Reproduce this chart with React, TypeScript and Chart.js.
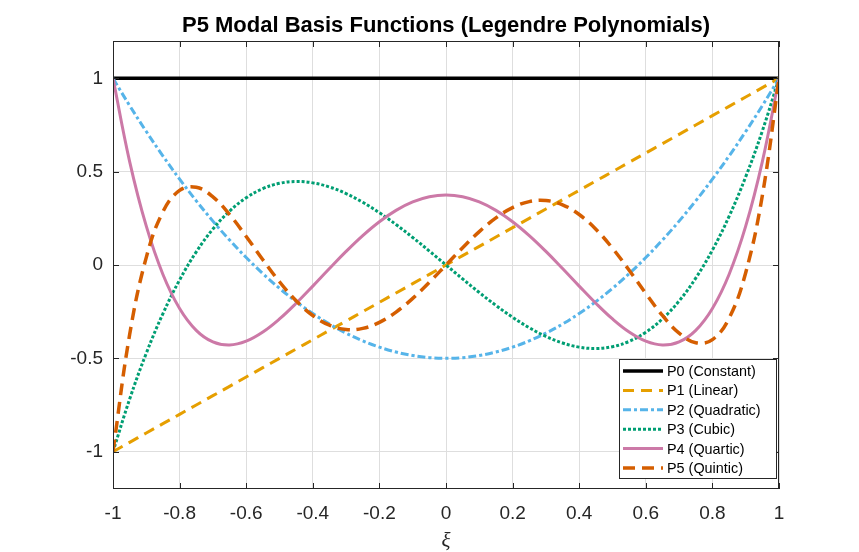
import React, { useEffect, useRef } from "react";
import { Chart, registerables } from "chart.js";
Chart.register(...registerables);

const TITLE = "P5 Modal Basis Functions (Legendre Polynomials)";
const X_LABEL = "ξ";
const X_TICKS = [-1, -0.8, -0.6, -0.4, -0.2, 0, 0.2, 0.4, 0.6, 0.8, 1];
const Y_TICKS = [-1, -0.5, 0, 0.5, 1];

const xi = [
  -1, -0.95, -0.9, -0.85, -0.8, -0.75, -0.7, -0.65, -0.6, -0.55, -0.5, -0.45, -0.4, -0.35, -0.3, -0.25, -0.2, -0.15, -0.1, -0.05,
  0, 0.05, 0.1, 0.15, 0.2, 0.25, 0.3, 0.35, 0.4, 0.45, 0.5, 0.55, 0.6, 0.65, 0.7, 0.75, 0.8, 0.85, 0.9, 0.95, 1,
];

const p0 = [
  1, 1, 1, 1, 1, 1, 1, 1, 1, 1, 1, 1, 1, 1, 1, 1, 1, 1, 1, 1,
  1, 1, 1, 1, 1, 1, 1, 1, 1, 1, 1, 1, 1, 1, 1, 1, 1, 1, 1, 1, 1,
];
const p1 = [
  -1, -0.95, -0.9, -0.85, -0.8, -0.75, -0.7, -0.65, -0.6, -0.55, -0.5, -0.45, -0.4, -0.35, -0.3, -0.25, -0.2, -0.15, -0.1, -0.05,
  0, 0.05, 0.1, 0.15, 0.2, 0.25, 0.3, 0.35, 0.4, 0.45, 0.5, 0.55, 0.6, 0.65, 0.7, 0.75, 0.8, 0.85, 0.9, 0.95, 1,
];
const p2 = [
  1, 0.8538, 0.715, 0.5838, 0.46, 0.3438, 0.235, 0.1338, 0.04, -0.0463, -0.125, -0.1963, -0.26, -0.3163, -0.365, -0.4063, -0.44, -0.4663, -0.485, -0.4963,
  -0.5, -0.4963, -0.485, -0.4663, -0.44, -0.4063, -0.365, -0.3163, -0.26, -0.1963, -0.125, -0.0463, 0.04, 0.1338, 0.235, 0.3438, 0.46, 0.5838, 0.715, 0.8538, 1,
];
const p3 = [
  -1, -0.7184, -0.4725, -0.2603, -0.08, 0.0703, 0.1925, 0.2884, 0.36, 0.4091, 0.4375, 0.4472, 0.44, 0.4178, 0.3825, 0.3359, 0.28, 0.2166, 0.1475, 0.0747,
  0, -0.0747, -0.1475, -0.2166, -0.28, -0.3359, -0.3825, -0.4178, -0.44, -0.4472, -0.4375, -0.4091, -0.36, -0.2884, -0.1925, -0.0703, 0.08, 0.2603, 0.4725, 0.7184, 1,
];
const p4 = [
  1, 0.5541, 0.2079, -0.0506, -0.233, -0.3501, -0.4121, -0.4284, -0.408, -0.359, -0.2891, -0.205, -0.113, -0.0187, 0.0729, 0.1577, 0.232, 0.2928, 0.3379, 0.3657,
  0.375, 0.3657, 0.3379, 0.2928, 0.232, 0.1577, 0.0729, -0.0187, -0.113, -0.205, -0.2891, -0.359, -0.408, -0.4284, -0.4121, -0.3501, -0.233, -0.0506, 0.2079, 0.5541, 1,
];
const p5 = [
  -1, -0.3727, 0.0411, 0.2857, 0.3995, 0.4164, 0.3652, 0.2705, 0.1526, 0.0282, -0.0898, -0.1917, -0.2706, -0.3225, -0.3454, -0.3397, -0.3075, -0.2523, -0.1788, -0.0927,
  0, 0.0927, 0.1788, 0.2523, 0.3075, 0.3397, 0.3454, 0.3225, 0.2706, 0.1917, 0.0898, -0.0282, -0.1526, -0.2705, -0.3652, -0.4164, -0.3995, -0.2857, -0.0411, 0.3727, 1,
];

const seriesNames = ["P0 (Constant)", "P1 (Linear)", "P2 (Quadratic)", "P3 (Cubic)", "P4 (Quartic)", "P5 (Quintic)"];
const seriesValues = [p0, p1, p2, p3, p4, p5];
const seriesColors = ["#000000", "#E69F00", "#56B4E9", "#009E73", "#CC79A7", "#D55E00"];
const seriesDash: number[][] = [[], [11, 7], [8, 3, 3, 3], [3, 2], [], [12, 7]];
const seriesWidth = [3.5, 3, 3, 3, 3, 3.5];

const SANS = '"Liberation Sans", Arial, Helvetica, sans-serif';

const fmt = (v: number) => String(Number(v.toFixed(2)));

const framePlugin = {
  id: "frame",
  afterDraw(chart: any) {
    const { ctx, chartArea: a, scales } = chart;
    ctx.save();
    ctx.strokeStyle = "#262626";
    ctx.lineWidth = 1;
    ctx.setLineDash([]);
    ctx.strokeRect(Math.round(a.left) + 0.5, Math.round(a.top) + 0.5, Math.round(a.right - a.left) - 1, Math.round(a.bottom - a.top) - 1);
    const tl = 6;
    ctx.beginPath();
    for (const v of X_TICKS) {
      const px = Math.round(scales.x.getPixelForValue(v)) + 0.5;
      ctx.moveTo(px, a.bottom);
      ctx.lineTo(px, a.bottom - tl);
      ctx.moveTo(px, a.top);
      ctx.lineTo(px, a.top + tl);
    }
    for (const v of Y_TICKS) {
      const py = Math.round(scales.y.getPixelForValue(v)) + 0.5;
      ctx.moveTo(a.left, py);
      ctx.lineTo(a.left + tl, py);
      ctx.moveTo(a.right, py);
      ctx.lineTo(a.right - tl, py);
    }
    ctx.stroke();

    // title
    const cx = (a.left + a.right) / 2;
    ctx.fillStyle = "#000000";
    ctx.font = `bold 22px ${SANS}`;
    ctx.textAlign = "center";
    ctx.textBaseline = "alphabetic";
    ctx.fillText(TITLE, cx, 32);

    // x label
    ctx.fillStyle = "#262626";
    ctx.font = `italic 21px "Liberation Serif", "Times New Roman", serif`;
    ctx.textBaseline = "middle";
    ctx.fillText(X_LABEL, cx, 541);

    // legend
    const lw = 157;
    const lh = 119;
    const lx = a.right - 3 - lw;
    const ly = a.bottom - 11 - lh;
    ctx.fillStyle = "#ffffff";
    ctx.fillRect(lx, ly, lw, lh);
    ctx.strokeStyle = "#262626";
    ctx.lineWidth = 1;
    ctx.strokeRect(Math.round(lx) + 0.5, Math.round(ly) + 0.5, lw, lh);
    ctx.font = `14.4px ${SANS}`;
    ctx.textAlign = "left";
    ctx.textBaseline = "middle";
    for (let i = 0; i < seriesNames.length; i++) {
      const ry = ly + 12 + i * 19.4;
      ctx.strokeStyle = seriesColors[i];
      ctx.lineWidth = seriesWidth[i];
      ctx.setLineDash(seriesDash[i]);
      ctx.beginPath();
      ctx.moveTo(lx + 4, ry);
      ctx.lineTo(lx + 44, ry);
      ctx.stroke();
      ctx.setLineDash([]);
      ctx.fillStyle = "#000000";
      ctx.fillText(seriesNames[i], lx + 48, ry + 1);
    }
    ctx.restore();
  },
};

export default function App() {
  const ref = useRef<HTMLCanvasElement | null>(null);
  useEffect(() => {
    if (!ref.current) return;
    const datasets = seriesValues.map((vals, i) => ({
      label: seriesNames[i],
      data: xi.map((x, k) => ({ x, y: vals[k] })),
      borderColor: seriesColors[i],
      backgroundColor: seriesColors[i],
      borderWidth: seriesWidth[i],
      borderDash: seriesDash[i],
      pointRadius: 0,
      tension: 0.4,
      fill: false,
      order: seriesNames.length - i,
    }));
    const chart = new Chart(ref.current, {
      type: "line",
      data: { datasets },
      options: {
        animation: false,
        responsive: false,
        maintainAspectRatio: false,
        layout: { padding: { left: 0, right: 80, top: 41, bottom: 0 } },
        plugins: { legend: { display: false }, title: { display: false }, tooltip: { enabled: false } },
        scales: {
          x: {
            type: "linear",
            min: -1,
            max: 1,
            afterFit: (s: any) => {
              s.height = 63;
            },
            afterBuildTicks: (s: any) => {
              s.ticks = X_TICKS.map((v) => ({ value: v }));
            },
            border: { display: false },
            grid: { color: "#dedede", lineWidth: 1, drawTicks: false },
            ticks: {
              color: "#262626",
              font: { size: 19, family: SANS },
              padding: 13,
              maxRotation: 0,
              autoSkip: false,
              callback: (v: any) => fmt(Number(v)),
            },
          },
          y: {
            type: "linear",
            min: -1.2,
            max: 1.2,
            afterFit: (s: any) => {
              s.width = 113;
            },
            afterBuildTicks: (s: any) => {
              s.ticks = Y_TICKS.map((v) => ({ value: v }));
            },
            border: { display: false },
            grid: { color: "#dedede", lineWidth: 1, drawTicks: false },
            ticks: {
              color: "#262626",
              font: { size: 19, family: SANS },
              padding: 10,
              autoSkip: false,
              callback: (v: any) => fmt(Number(v)),
            },
          },
        },
      },
      plugins: [framePlugin],
    });
    return () => chart.destroy();
  }, []);
  return (
    <div style={{ position: "absolute", left: 0, top: 0, width: 859, height: 552, background: "#ffffff" }}>
      <canvas ref={ref} width={859} height={552} style={{ display: "block", width: 859, height: 552 }} />
    </div>
  );
}
